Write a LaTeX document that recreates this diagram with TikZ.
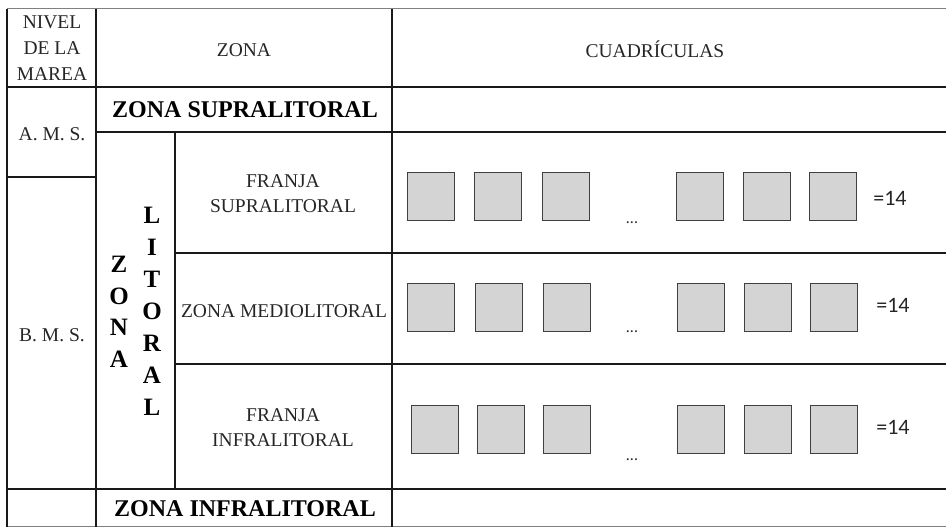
\documentclass[tikz,border=0pt]{standalone}
\usepackage{fontspec}
\setmainfont{Liberation Serif}
\newfontfamily\calib{Carlito}
\begin{document}
\begin{tikzpicture}[x=1pt,y=-1pt,
  grid/.style={line width=1.7pt,black!90},
  outer/.style={line width=1pt,black!50},
  txt/.style={inner sep=0pt,align=center,font=\fontsize{19.5}{26}\selectfont,text=black!85},
  bold/.style={inner sep=0pt,align=center,font=\fontsize{24}{31}\selectfont\bfseries},
  cell/.style={draw=black!75,fill=black!17,line width=1.1pt,minimum width=47pt,minimum height=48pt,inner sep=0pt,anchor=north west},
  eq/.style={inner sep=0pt,font=\calib\fontsize{22}{26}\selectfont,text=black!85},
  dots/.style={inner sep=0pt,font=\calib\fontsize{16}{20}\selectfont,text=black!85}]
\useasboundingbox (0,0) rectangle (946,527);
\fill[white] (0,0) rectangle (946,527);
% outer borders
\draw[outer] (7,9) -- (946,9);
\draw[outer] (7,526.5) -- (946,526.5);
% vertical lines
\draw[grid] (7,9) -- (7,527);
\draw[grid] (96,9) -- (96,527);
\draw[grid] (175,132) -- (175,489);
\draw[grid] (392,9) -- (392,527);
% horizontal lines
\draw[grid] (7,87) -- (946,87);
\draw[grid] (96,132) -- (946,132);
\draw[grid] (7,177) -- (96,177);
\draw[grid] (175,253) -- (946,253);
\draw[grid] (175,364) -- (946,364);
\draw[grid] (7,489) -- (946,489);
% header texts
\node[txt] (nivel) at (52,48) {NIVEL\\DE LA\\MAREA};
\node[txt] (zona) at (244,50) {ZONA};
\node[txt] (cuad) at (655,49) {CUADRÍCULAS};
% left column
\node[txt] (ams) at (52,134) {A. M. S.};
\node[txt] (bms) at (52,335) {B. M. S.};
% zones
\node[bold] (supra) at (245,110) {ZONA SUPRALITORAL};
\node[bold] (infra) at (245,509) {ZONA INFRALITORAL};
\node[bold,font=\fontsize{25}{31.5}\selectfont\bfseries] (zonav) at (119,312) {Z\\O\\N\\A};
\node[bold,font=\fontsize{25}{32}\selectfont\bfseries] (litv) at (152,311) {L\\I\\T\\O\\R\\A\\L};
\node[txt,font=\fontsize{19.5}{25}\selectfont] (fsupra) at (283,194) {FRANJA\\SUPRALITORAL};
\node[txt] (medio) at (284,311) {ZONA MEDIOLITORAL};
\node[txt,font=\fontsize{19.5}{25}\selectfont] (finfra) at (283,428) {FRANJA\\INFRALITORAL};
% row 1 squares
\node[cell] (a1) at (407,172) {};
\node[cell] (a2) at (474,172) {};
\node[cell] (a3) at (542,172) {};
\node[cell] (a4) at (676,172) {};
\node[cell] (a5) at (743,172) {};
\node[cell] (a6) at (809,172) {};
\node[dots] (ad) at (632,223) {...};
\node[eq] (ae) at (890,198) {=14};
% row 2 squares
\node[cell] (b1) at (407,283) {};
\node[cell] (b2) at (475,283) {};
\node[cell] (b3) at (543,283) {};
\node[cell] (b4) at (677,283) {};
\node[cell] (b5) at (744,283) {};
\node[cell] (b6) at (810,283) {};
\node[dots] (bd) at (632,332) {...};
\node[eq] (be) at (893,305) {=14};
% row 3 squares
\node[cell] (c1) at (411,405) {};
\node[cell] (c2) at (477,405) {};
\node[cell] (c3) at (543,405) {};
\node[cell] (c4) at (677,405) {};
\node[cell] (c5) at (744,405) {};
\node[cell] (c6) at (810,405) {};
\node[dots] (cd) at (632,460) {...};
\node[eq] (ce) at (893,427) {=14};
\end{tikzpicture}
\end{document}
